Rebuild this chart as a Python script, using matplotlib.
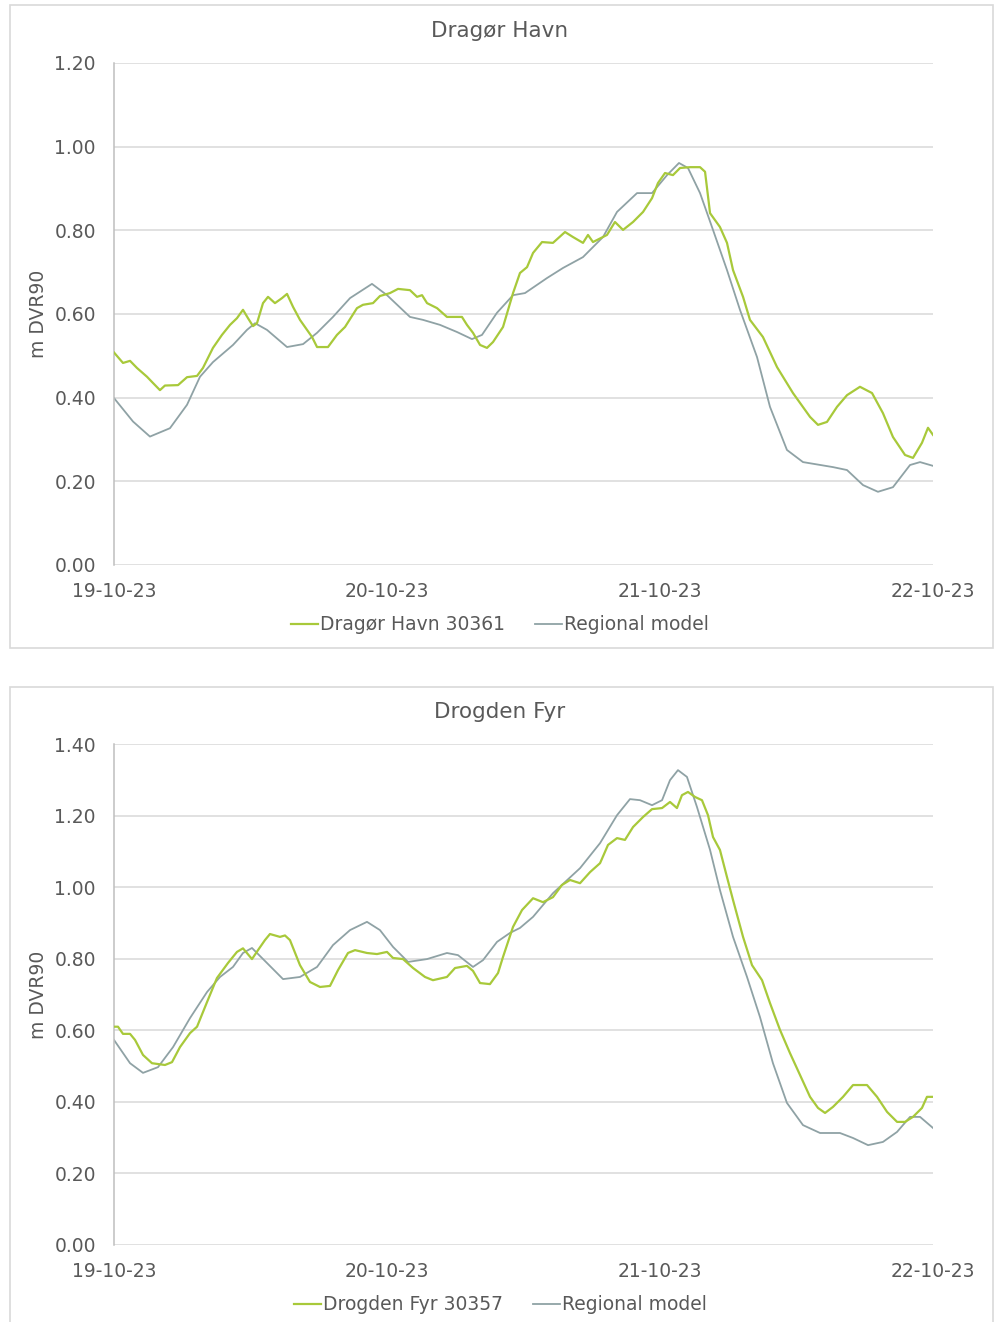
import matplotlib
matplotlib.use("Agg")
import matplotlib.pyplot as plt
import matplotlib.dates as mdates
from matplotlib.patches import Rectangle
import pandas as pd

START = pd.Timestamp("2023-10-19 00:00")

# ---------------- Dragør Havn ----------------
dragoer_obs_hours = [
    0.0, 0.79, 1.41, 2.02, 2.90, 3.43, 4.04, 4.48, 5.63, 6.42, 7.30, 7.82, 8.70, 9.49,
    10.20, 10.81, 11.34, 11.78, 12.22, 12.57, 13.10, 13.54, 14.15, 14.77, 15.21, 15.74,
    16.35, 16.97, 17.41, 17.85, 18.81, 19.60, 20.31, 21.36, 21.89, 22.77, 23.38, 24.26,
    24.97, 26.02, 26.64, 27.08, 27.52, 28.40, 29.27, 30.59, 31.03, 31.56, 32.18, 32.79,
    33.32, 34.20, 35.08, 35.69, 36.31, 36.84, 37.63, 38.59, 39.65, 40.35, 41.23, 41.67,
    42.11, 43.34, 44.04, 44.75, 45.63, 46.51, 47.30, 47.82, 48.44, 49.14, 49.76, 50.64,
    51.52, 51.96, 52.40, 53.27, 53.89, 54.42, 55.30, 55.91, 57.05, 58.29, 59.69, 61.19,
    61.89, 62.68, 63.56, 64.44, 65.58, 66.64, 67.60, 68.48, 69.54, 70.24, 71.03, 71.56,
    72.0,
]
dragoer_obs = [
    0.508, 0.483, 0.488, 0.471, 0.450, 0.435, 0.418, 0.429, 0.430, 0.449, 0.452, 0.471,
    0.519, 0.550, 0.574, 0.590, 0.610, 0.590, 0.571, 0.578, 0.626, 0.641, 0.626, 0.638,
    0.648, 0.617, 0.586, 0.562, 0.545, 0.521, 0.521, 0.550, 0.569, 0.614, 0.622, 0.626,
    0.643, 0.650, 0.660, 0.657, 0.641, 0.645, 0.626, 0.614, 0.593, 0.593, 0.574, 0.555,
    0.526, 0.519, 0.533, 0.569, 0.650, 0.698, 0.712, 0.746, 0.772, 0.770, 0.796, 0.784,
    0.770, 0.789, 0.772, 0.789, 0.820, 0.801, 0.820, 0.844, 0.877, 0.913, 0.937, 0.932,
    0.949, 0.951, 0.951, 0.940, 0.841, 0.808, 0.770, 0.705, 0.641, 0.586, 0.545, 0.473,
    0.411, 0.354, 0.335, 0.342, 0.378, 0.406, 0.426, 0.411, 0.363, 0.306, 0.263, 0.256,
    0.292, 0.328, 0.311,
]
dragoer_model_hours = [
    0.0, 1.67, 3.16, 4.92, 6.42, 7.56, 8.70, 10.46, 11.69, 12.40, 13.45, 15.21, 16.62,
    17.85, 19.25, 20.75, 22.68, 24.00, 26.02, 27.16, 28.66, 30.15, 31.47, 32.35, 33.67,
    35.08, 36.13, 38.07, 39.47, 41.23, 42.99, 44.22, 45.98, 47.30, 48.62, 49.67, 50.46,
    51.52, 52.66, 53.89, 55.03, 56.53, 57.67, 59.16, 60.57, 63.21, 64.44, 65.85, 67.16,
    68.48, 69.98, 70.86, 72.0,
]
dragoer_model = [
    0.399, 0.343, 0.307, 0.327, 0.383, 0.450, 0.485, 0.526, 0.562, 0.578, 0.562, 0.521,
    0.528, 0.555, 0.593, 0.638, 0.672, 0.645, 0.593, 0.586, 0.574, 0.557, 0.540, 0.550,
    0.603, 0.645, 0.650, 0.686, 0.710, 0.736, 0.784, 0.844, 0.889, 0.889, 0.932, 0.961,
    0.949, 0.889, 0.801, 0.705, 0.610, 0.497, 0.378, 0.275, 0.246, 0.234, 0.227, 0.191,
    0.175, 0.186, 0.239, 0.246, 0.237,
]

# ---------------- Drogden Fyr ----------------
drogden_obs_hours = [
    0.0, 0.35, 0.79, 1.41, 1.85, 2.55, 3.34, 4.48, 5.10, 5.80, 6.68, 7.30, 8.18, 9.05,
    10.02, 10.81, 11.34, 12.13, 12.66, 13.27, 13.71, 14.59, 15.03, 15.47, 16.35, 17.23,
    18.11, 18.99, 19.69, 20.57, 21.19, 22.24, 23.12, 24.00, 24.53, 25.41, 26.29, 27.34,
    28.04, 29.27, 29.98, 31.03, 31.56, 32.18, 33.05, 33.76, 34.20, 35.08, 35.87, 36.84,
    37.71, 38.59, 39.38, 40.09, 40.97, 41.85, 42.73, 43.43, 44.22, 44.92, 45.63, 46.51,
    47.30, 48.18, 48.88, 49.49, 49.93, 50.46, 51.08, 51.69, 52.22, 52.66, 53.27, 53.89,
    54.42, 55.30, 56.09, 56.97, 57.67, 58.55, 59.43, 60.31, 61.19, 61.89, 62.51, 63.21,
    64.09, 64.97, 66.20, 67.08, 67.96, 68.84, 69.54, 70.24, 71.03, 71.47, 72.0,
]
drogden_obs = [
    0.610, 0.610, 0.590, 0.590, 0.573, 0.531, 0.508, 0.503, 0.511, 0.553, 0.592, 0.610,
    0.679, 0.746, 0.788, 0.819, 0.829, 0.799, 0.824, 0.852, 0.869, 0.861, 0.865, 0.852,
    0.782, 0.735, 0.721, 0.724, 0.768, 0.816, 0.824, 0.816, 0.813, 0.819, 0.802, 0.799,
    0.774, 0.749, 0.740, 0.749, 0.774, 0.780, 0.766, 0.732, 0.729, 0.760, 0.805, 0.889,
    0.936, 0.969, 0.958, 0.972, 1.006, 1.020, 1.011, 1.042, 1.067, 1.118, 1.137, 1.132,
    1.168, 1.196, 1.218, 1.221, 1.238, 1.221, 1.257, 1.266, 1.252, 1.243, 1.201, 1.140,
    1.104, 1.028, 0.964, 0.861, 0.782, 0.740, 0.676, 0.601, 0.536, 0.475, 0.414, 0.383,
    0.369, 0.386, 0.414, 0.447, 0.447, 0.414, 0.372, 0.344, 0.344, 0.358, 0.383, 0.414,
    0.414,
]
drogden_model_hours = [
    0.0, 1.41, 2.55, 3.87, 5.19, 6.68, 8.18, 9.32, 10.46, 11.34, 12.13, 13.45, 14.86,
    16.35, 17.85, 19.25, 20.75, 22.24, 23.38, 24.53, 25.85, 27.52, 29.27, 30.24, 31.56,
    32.44, 33.67, 34.81, 35.69, 36.84, 38.59, 40.97, 42.73, 44.22, 45.36, 46.24, 47.30,
    48.18, 48.88, 49.58, 50.37, 51.25, 52.40, 53.27, 54.42, 55.65, 56.79, 57.93, 59.16,
    60.57, 62.07, 63.82, 64.97, 66.29, 67.60, 68.84, 69.98, 70.86, 72.0,
]
drogden_model = [
    0.573, 0.508, 0.481, 0.497, 0.553, 0.634, 0.707, 0.749, 0.777, 0.816, 0.830, 0.788,
    0.743, 0.749, 0.777, 0.838, 0.880, 0.903, 0.880, 0.833, 0.791, 0.799, 0.816, 0.810,
    0.777, 0.796, 0.847, 0.872, 0.886, 0.917, 0.983, 1.053, 1.123, 1.201, 1.246, 1.243,
    1.229, 1.243, 1.299, 1.327, 1.308, 1.224, 1.104, 0.992, 0.861, 0.749, 0.637, 0.508,
    0.397, 0.335, 0.313, 0.313, 0.299, 0.279, 0.288, 0.316, 0.358, 0.358, 0.327,
]

titles = ["Dragør Havn", "Drogden Fyr"]
obs_labels = ["Dragør Havn 30361", "Drogden Fyr 30357"]
model_label = "Regional model"
y_label = "m DVR90"
y_tops = [1.20, 1.40]

GREEN = "#A8C93A"
GREY = "#8FA2A5"
TEXT = "#595959"
GRID = "#D9D9D9"

plt.rcParams["font.family"] = ["DejaVu Sans"]

W, H = 1000, 1322
fig = plt.figure(figsize=(W / 100, H / 100), dpi=100)


def fx(px):
    return px / W


def fy(py):
    return 1 - py / H


def to_times(hours):
    return START + pd.to_timedelta(hours, unit="h")


series = [
    (dragoer_obs_hours, dragoer_obs, dragoer_model_hours, dragoer_model),
    (drogden_obs_hours, drogden_obs, drogden_model_hours, drogden_model),
]
# panel geometry in pixels: (box top, box bottom, axes top, axes bottom, title y, legend y)
panels = [
    (5, 648, 63, 565, 31, 625),
    (687, 1340, 744, 1245, 712, 1305),
]

for i, ((oh, ov, mh, mv), (bt, bb, at, ab, ty, ly)) in enumerate(zip(series, panels)):
    # panel frame
    fig.patches.append(Rectangle((fx(10), fy(bb)), fx(983), (bb - bt) / H,
                                 transform=fig.transFigure, fill=False,
                                 edgecolor="#D9D9D9", linewidth=1.2, zorder=0))
    ax = fig.add_axes([fx(114), fy(ab), fx(933 - 114), (ab - at) / H])
    l1, = ax.plot(to_times(oh), ov, color=GREEN, lw=1.6, label=obs_labels[i], zorder=3)
    l2, = ax.plot(to_times(mh), mv, color=GREY, lw=1.3, label=model_label, zorder=2)

    ax.set_xlim(START, START + pd.Timedelta(hours=72))
    ax.set_ylim(0, y_tops[i])
    ax.set_yticks([k * 0.2 for k in range(int(round(y_tops[i] / 0.2)) + 1)])
    ax.yaxis.set_major_formatter(plt.FuncFormatter(lambda v, p: f"{v:.2f}"))
    ax.xaxis.set_major_locator(mdates.DayLocator())
    ax.xaxis.set_major_formatter(mdates.DateFormatter("%d-%m-%y"))

    ax.grid(axis="y", color=GRID, lw=1.1)
    ax.set_axisbelow(True)
    for side in ["top", "right", "bottom"]:
        ax.spines[side].set_visible(False)
    ax.spines["left"].set_color("#BFBFBF")
    ax.spines["left"].set_linewidth(1.1)
    ax.tick_params(axis="both", length=0, labelsize=13.5, labelcolor=TEXT)
    ax.tick_params(axis="y", pad=13)
    ax.tick_params(axis="x", pad=12)

    fig.text(0.5, fy(ty), titles[i], ha="center", va="center", fontsize=15.5, color=TEXT)
    fig.text(fx(38), fy((at + ab) / 2), y_label, ha="center", va="center",
             rotation=90, fontsize=13.5, color=TEXT)
    fig.legend(handles=[l1, l2], loc="center", bbox_to_anchor=(0.5, fy(ly)),
               ncol=2, frameon=False, fontsize=13.5, labelcolor=TEXT,
               handlelength=1.45, handletextpad=0.1, columnspacing=1.6,
               borderpad=0, borderaxespad=0)

fig.savefig("out.png", dpi=100, facecolor="white")
